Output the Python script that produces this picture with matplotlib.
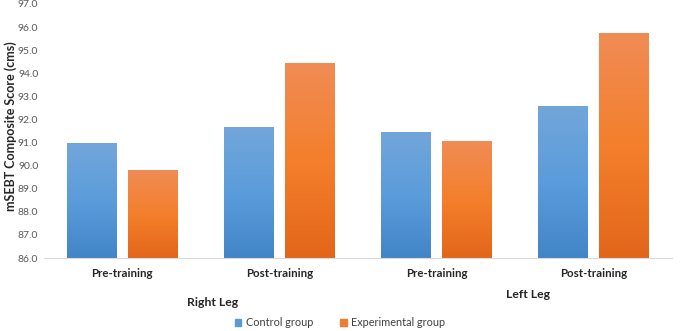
import numpy as np
import matplotlib
matplotlib.use("Agg")
from matplotlib import pyplot as plt
from matplotlib.colors import LinearSegmentedColormap

plt.rcParams['font.family'] = ['Lato', 'DejaVu Sans']

# data
categories = ["Pre-training", "Post-training", "Pre-training", "Post-training"]
control = [90.95, 91.65, 91.43, 92.57]
experimental = [89.77, 94.43, 91.04, 95.73]
series_names = ["Control group", "Experimental group"]
yticks = np.arange(86.0, 97.01, 1.0)

blue_cm = LinearSegmentedColormap.from_list("b", ["#4285C7", "#5B9CDB", "#72A6DA"])
orange_cm = LinearSegmentedColormap.from_list("o", ["#E2661A", "#F47F2C", "#F08C55"])

fig = plt.figure(figsize=(6.85, 3.31), dpi=100)
ax = fig.add_axes([0.064, 0.2205, 0.917, 0.7675])

x = np.arange(len(categories))
w = 0.315
gap = 0.075
bars_c = ax.bar(x - (w + gap) / 2, control, w, color="#5B9BD5")
bars_e = ax.bar(x + (w + gap) / 2, experimental, w, color="#ED7D31")

# gradient fill inside each bar
grad = np.linspace(0, 1, 256).reshape(-1, 1)
for bars, cm in [(bars_c, blue_cm), (bars_e, orange_cm)]:
    for b in bars:
        b.set_facecolor("none")
        b.set_edgecolor("none")
        x0 = b.get_x()
        x1 = x0 + b.get_width()
        top = b.get_height()
        ax.imshow(grad, cmap=cm, extent=[x0, x1, 86, top], origin="lower",
                  aspect="auto", zorder=2)
ax.set_xlim(-0.5, len(categories) - 0.5)
ax.set_ylim(86, 97)

ax.set_yticks(yticks)
ax.set_yticklabels(["%.1f" % v for v in yticks], fontsize=7.5, color="#595959")
ax.set_xticks(x)
ax.set_xticklabels(categories, fontsize=8.3, fontweight="bold", color="#262626")
ax.tick_params(length=0, pad=7)
ax.tick_params(axis="y", pad=4)

for s in ["top", "right", "left"]:
    ax.spines[s].set_visible(False)
ax.spines["bottom"].set_color("#D9D9D9")

ax.set_ylabel("mSEBT Composite Score (cms)", fontsize=9, fontweight="bold",
              color="#262626", va="center")
ax.yaxis.set_label_coords(-0.0525, 0.52)

fig.text(213 / 685, 1 - 302 / 331, "Right Leg", ha="center", va="center",
         fontsize=8.8, fontweight="bold", color="#262626")
fig.text(528 / 685, 1 - 294 / 331, "Left Leg", ha="center", va="center",
         fontsize=8.8, fontweight="bold", color="#262626")

handles = [plt.Rectangle((0, 0), 1, 1, color="#5B9BD5"),
           plt.Rectangle((0, 0), 1, 1, color="#ED7D31")]
fig.legend(handles, series_names, loc="center", bbox_to_anchor=(340 / 685, 1 - 323 / 331),
           ncol=2, frameon=False, fontsize=7.8, handlelength=0.6, handleheight=0.6,
           handletextpad=0.4, columnspacing=2.5, labelcolor="#404040")

fig.savefig("out.png", dpi=100)
